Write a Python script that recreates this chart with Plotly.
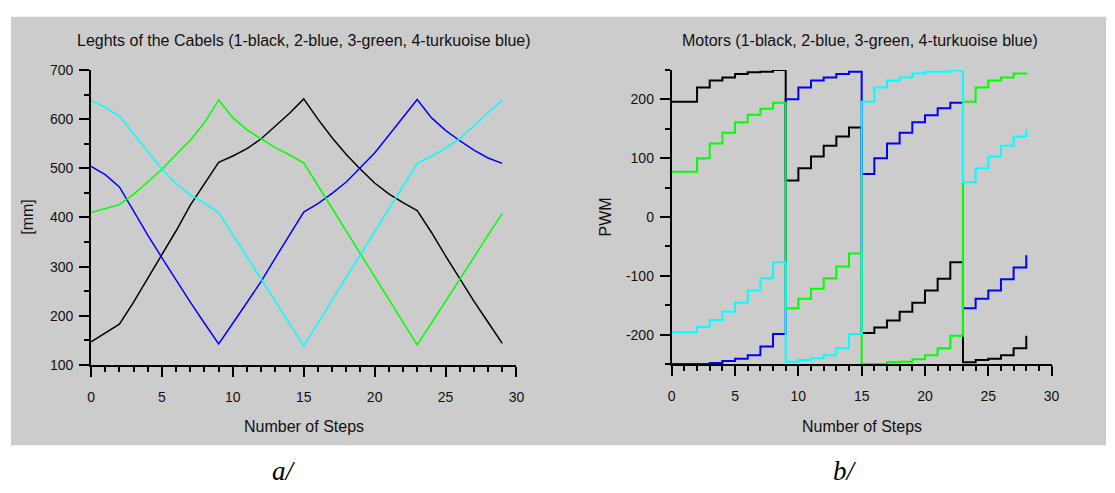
import plotly.graph_objects as go

# ---------------- data ----------------
steps_a = list(range(30))
len_black = [147, 165, 183, 228, 277, 325, 373, 425, 468, 512, 525, 540, 560, 585, 612,
             641, 600, 562, 528, 498, 470, 448, 430, 414, 370, 322, 275, 230, 187, 144]
len_blue = [504, 487, 462, 412, 364, 318, 272, 228, 185, 143, 185, 228, 270, 318, 365,
            411, 428, 449, 472, 501, 531, 567, 603, 640, 603, 577, 556, 537, 521, 510]
len_green = [410, 418, 426, 447, 472, 498, 528, 557, 593, 639, 603, 578, 560, 542, 527,
             511, 465, 419, 373, 327, 281, 234, 187, 141, 185, 229, 274, 319, 364, 408]
len_cyan = [638, 624, 606, 570, 534, 498, 469, 446, 429, 410, 365, 320, 275, 229, 184,
            139, 185, 232, 278, 324, 371, 417, 464, 510, 524, 541, 560, 587, 613, 638]

steps_b = list(range(29))
pwm_black = [196, 196, 220, 232, 237, 243, 246, 247, 250,
             62, 83, 103, 121, 137, 152,
             -197, -188, -176, -161, -146, -125, -105, -77,
             -247, -243, -241, -235, -223, -202]
pwm_blue = [-250, -250, -250, -248, -245, -241, -235, -220, -199,
            200, 220, 232, 237, 243, 247,
            73, 100, 125, 143, 161, 173, 185, 194,
            -155, -139, -125, -106, -86, -65]
pwm_green = [77, 77, 100, 125, 143, 161, 174, 184, 194,
             -155, -139, -122, -104, -84, -62,
             -250, -250, -247, -246, -242, -235, -223, -202,
             196, 220, 232, 237, 244, 245]
pwm_cyan = [-196, -196, -187, -175, -161, -146, -125, -104, -77,
            -246, -243, -240, -235, -223, -199,
            196, 220, 232, 237, 244, 247, 247, 250,
            59, 83, 103, 121, 137, 150]

colors = ["#000000", "#0000ff", "#00ff00", "#00ffff"]
pwm_ticks = [-200, -100, 0, 100, 200]
pwm_ticktext = ["-200", "-100", "0", "100", "200"]

title_a = "Leghts of the Cabels (1-black, 2-blue, 3-green, 4-turkuoise blue)"
title_b = "Motors (1-black, 2-blue, 3-green, 4-turkuoise blue)"

W, H = 1115, 493
FONT = "Liberation Sans"

fig = go.Figure()
for ys, c in zip([len_black, len_blue, len_green, len_cyan], colors):
    fig.add_trace(go.Scatter(x=steps_a, y=ys, mode="lines", line=dict(color=c, width=1.5),
                             xaxis="x", yaxis="y", showlegend=False, hoverinfo="skip"))
for ys, c in zip([pwm_black, pwm_blue, pwm_green, pwm_cyan], colors):
    fig.add_trace(go.Scatter(x=steps_b, y=ys, mode="lines", line=dict(color=c, width=2, shape="hv"),
                             xaxis="x2", yaxis="y2", showlegend=False, hoverinfo="skip"))


def px(x):
    return x / W


def py(y):
    return (H - y) / H


axis_common = dict(showline=True, linecolor="black", linewidth=2, ticks="outside",
                   ticklen=10, tickwidth=1.5, tickcolor="black", showgrid=False,
                   zeroline=False, layer="below traces",
                   tickfont=dict(family=FONT, size=14, color="#111111"))

fig.update_layout(
    width=W, height=H, margin=dict(l=0, r=0, t=0, b=0),
    paper_bgcolor="white", plot_bgcolor="rgba(0,0,0,0)",
    xaxis=dict(domain=[px(88), px(518)], range=[0, 30], dtick=5, tick0=0, anchor="y",
               ticklabelstandoff=8,
               minor=dict(ticks="outside", ticklen=5, dtick=1, tickcolor="black", tickwidth=1.5),
               **axis_common),
    yaxis=dict(domain=[py(369), py(64)], range=[100, 700], dtick=100, tick0=0, anchor="x",
               ticklabelstandoff=3,
               minor=dict(ticks="outside", ticklen=5, dtick=50, tickcolor="black", tickwidth=1.5),
               **axis_common),
    xaxis2=dict(domain=[px(675), px(1059)], range=[0, 30], dtick=5, tick0=0, anchor="y2",
                ticklabelstandoff=8,
                minor=dict(ticks="outside", ticklen=5, dtick=1, tickcolor="black", tickwidth=1.5),
                **axis_common),
    yaxis2=dict(domain=[py(368), py(64)], range=[-250, 250], tickvals=pwm_ticks,
                ticktext=pwm_ticktext, anchor="x2", ticklabelstandoff=3,
                minor=dict(ticks="outside", ticklen=5, dtick=50, tick0=0, tickcolor="black",
                           tickwidth=1.5),
                **axis_common),
    shapes=[dict(type="rect", xref="paper", yref="paper", x0=px(7), x1=px(1114),
                 y0=py(452), y1=py(9), fillcolor="#cccccc", line=dict(width=0), layer="below")],
)

text_font = dict(family=FONT, size=16, color="#111111")
annots = [
    dict(text=title_a, x=px(303), y=py(34)),
    dict(text=title_b, x=px(865), y=py(34)),
    dict(text="Number of Steps", x=px(303), y=py(433)),
    dict(text="Number of Steps", x=px(867), y=py(433)),
    dict(text="[mm]", x=px(24), y=py(216), textangle=-90),
    dict(text="PWM", x=px(609), y=py(216), textangle=-90),
]
for a in annots:
    fig.add_annotation(xref="paper", yref="paper", showarrow=False, font=text_font,
                       xanchor="center", yanchor="middle", **a)

lab_font = dict(family="Liberation Serif", size=27, color="black")
fig.add_annotation(text="<i>a/</i>", x=px(283), y=py(479), xref="paper", yref="paper",
                   showarrow=False, font=lab_font, xanchor="center", yanchor="middle")
fig.add_annotation(text="<i>b/</i>", x=px(850), y=py(479), xref="paper", yref="paper",
                   showarrow=False, font=lab_font, xanchor="center", yanchor="middle")

fig.write_html("out.html")
